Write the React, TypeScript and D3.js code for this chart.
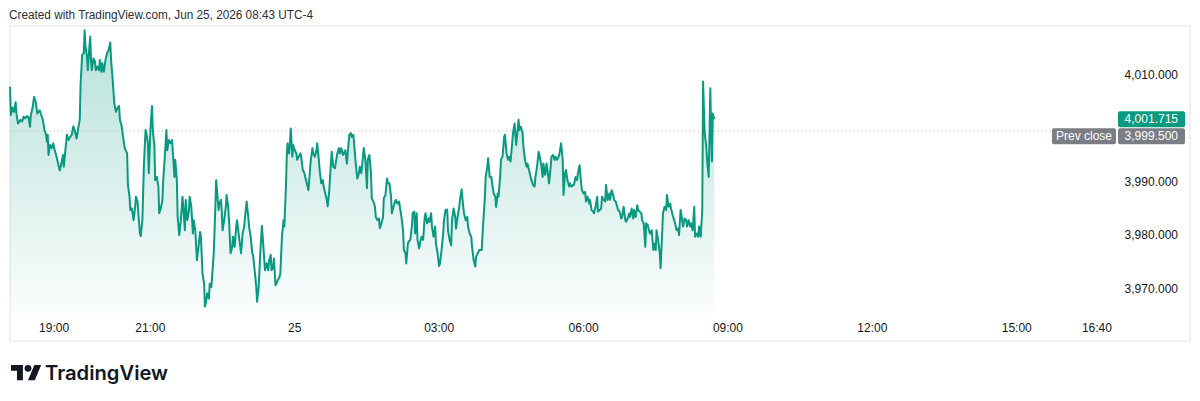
import * as d3 from 'd3';
import React, { useEffect, useRef } from 'react';

const headerText = 'Created with TradingView.com, Jun 25, 2026 08:43 UTC-4';
const prevClose = 3999.5;
const lastPrice = 4001.715;

// time axis: minutes after 18:00 on Jun 24
const xTickMinutes = [60, 180, 360, 540, 720, 900, 1080, 1260, 1360];
const xTickLabels = ['19:00', '21:00', '25', '03:00', '06:00', '09:00', '12:00', '15:00', '16:40'];
const yTicks = [3970, 3980, 3990, 4010];

// [minutes after 18:00, price]
const series: [number, number][] = [
  [5, 4007.8], [6, 4002.5], [8, 4003.9], [10, 4003.1], [12, 4004.9], [13, 4002.8], [15, 4000.9], [18, 4001.6],
  [20, 4001.3], [22, 4002.2], [24, 4001.9], [26, 4002.3], [28, 4002.1], [30, 4000.3], [31, 4002.5], [33, 4003.8],
  [35, 4005.9], [37, 4005.0], [39, 4002.8], [42, 4003.4], [44, 4002.5], [46, 4001.6], [48, 3999.7], [50, 3998.8],
  [51, 3997.5], [52, 3998.8], [53, 3995.0], [55, 3996.9], [57, 3996.3], [59, 3997.2], [60, 3996.3], [62, 3995.3],
  [63, 3994.7], [65, 3993.4], [67, 3992.1], [69, 3993.4], [71, 3995.0], [72, 3992.8], [74, 3995.9], [76, 3998.8],
  [78, 3997.8], [80, 3998.4], [82, 3998.8], [84, 4000.4], [86, 3999.4], [88, 3998.1], [90, 4000.0], [92, 4001.6],
  [93, 4008.4], [95, 4013.8], [97, 4014.1], [98, 4018.4], [99, 4015.6], [101, 4013.4], [102, 4010.9], [104, 4015.3],
  [105, 4017.2], [106, 4012.8], [107, 4010.9], [109, 4013.1], [111, 4012.5], [112, 4010.9], [114, 4011.6], [116, 4010.9],
  [117, 4012.8], [119, 4010.6], [120, 4012.2], [122, 4010.6], [124, 4012.8], [126, 4014.1], [128, 4014.7], [130, 4016.1],
  [131, 4012.8], [133, 4009.1], [135, 4004.7], [137, 4003.1], [139, 4003.8], [141, 4004.2], [142, 4001.6], [144, 4000.6],
  [146, 3998.4], [148, 3996.3], [151, 3995.3], [152, 3989.4], [154, 3987.2], [155, 3984.7], [157, 3985.0], [159, 3982.8],
  [161, 3985.3], [162, 3987.2], [164, 3986.3], [165, 3984.1], [167, 3980.3], [168, 3979.8], [170, 3982.8], [172, 3993.4],
  [174, 3999.7], [175, 3999.1], [177, 3997.2], [178, 3991.6], [180, 3999.7], [182, 4004.2], [183, 3999.7], [185, 3996.6],
  [186, 3990.3], [188, 3990.9], [190, 3989.1], [191, 3984.1], [193, 3985.0], [195, 3986.6], [196, 3990.3], [198, 3994.7],
  [200, 3999.7], [201, 3995.9], [203, 3997.8], [205, 3997.2], [207, 3997.8], [208, 3995.6], [210, 3990.9], [211, 3994.1],
  [213, 3990.3], [214, 3983.4], [216, 3980.0], [218, 3982.8], [220, 3987.2], [221, 3985.3], [223, 3980.9], [224, 3986.6],
  [226, 3982.8], [228, 3984.4], [229, 3987.2], [231, 3985.3], [233, 3980.3], [234, 3982.8], [236, 3980.9], [238, 3975.3],
  [240, 3977.8], [242, 3980.6], [243, 3979.7], [245, 3972.8], [247, 3970.9], [248, 3966.6], [249, 3967.2], [251, 3969.1],
  [253, 3968.1], [254, 3970.9], [256, 3970.3], [259, 3976.6], [261, 3985.3], [262, 3990.3], [264, 3986.6], [265, 3984.7],
  [266, 3985.9], [268, 3986.6], [269, 3984.4], [270, 3980.9], [272, 3982.8], [274, 3985.3], [275, 3987.5], [277, 3985.3],
  [278, 3982.8], [280, 3976.6], [282, 3977.8], [283, 3979.7], [285, 3977.8], [287, 3981.6], [288, 3982.8], [290, 3980.3],
  [293, 3976.6], [295, 3980.3], [297, 3981.6], [298, 3983.4], [300, 3986.3], [302, 3983.4], [303, 3981.6], [305, 3979.7],
  [307, 3976.6], [308, 3976.3], [310, 3973.4], [312, 3970.3], [313, 3967.5], [315, 3970.3], [317, 3976.6], [319, 3981.7],
  [320, 3979.7], [322, 3975.3], [323, 3973.4], [325, 3974.7], [327, 3973.4], [328, 3975.3], [330, 3976.3], [331, 3973.4],
  [333, 3974.1], [334, 3975.6], [336, 3970.6], [337, 3970.9], [339, 3971.6], [341, 3972.2], [342, 3972.8], [344, 3979.7],
  [346, 3982.8], [347, 3981.6], [349, 3989.1], [350, 3994.7], [351, 3997.2], [353, 3995.3], [354, 3997.2], [355, 4000.0],
  [357, 3994.7], [358, 3996.9], [360, 3995.9], [362, 3995.3], [363, 3994.1], [365, 3994.7], [367, 3995.3], [368, 3994.7],
  [370, 3992.2], [372, 3991.6], [373, 3990.9], [375, 3989.7], [377, 3988.4], [378, 3990.3], [380, 3994.1], [382, 3996.3],
  [383, 3995.3], [385, 3994.7], [387, 3995.9], [388, 3997.2], [390, 3994.1], [391, 3992.2], [393, 3989.7], [395, 3990.3],
  [396, 3989.1], [398, 3987.8], [400, 3986.6], [401, 3985.4], [403, 3988.4], [405, 3993.4], [406, 3995.6], [408, 3992.8],
  [410, 3992.5], [411, 3993.4], [413, 3995.3], [415, 3996.3], [416, 3995.3], [418, 3996.3], [420, 3995.0], [421, 3995.3],
  [423, 3995.9], [425, 3993.4], [426, 3995.3], [428, 3998.8], [430, 3999.1], [431, 3998.4], [433, 3998.8], [435, 3995.3],
  [436, 3993.4], [438, 3990.6], [440, 3991.6], [441, 3992.8], [443, 3991.6], [445, 3994.7], [446, 3996.3], [448, 3994.1],
  [450, 3988.8], [451, 3994.1], [453, 3995.0], [455, 3991.6], [456, 3986.9], [458, 3986.3], [460, 3985.3], [461, 3983.4],
  [463, 3982.8], [465, 3983.1], [466, 3981.3], [468, 3982.2], [470, 3983.4], [471, 3986.9], [473, 3987.5], [475, 3990.6],
  [476, 3989.7], [478, 3989.7], [480, 3987.2], [481, 3984.1], [483, 3985.3], [485, 3986.3], [486, 3986.6], [488, 3985.9],
  [490, 3986.3], [491, 3985.3], [493, 3983.4], [495, 3980.9], [496, 3977.2], [498, 3976.6], [499, 3974.7], [501, 3978.4],
  [502, 3978.8], [504, 3979.1], [506, 3981.6], [507, 3984.1], [509, 3984.4], [510, 3980.3], [512, 3984.1], [513, 3979.1],
  [515, 3977.5], [517, 3979.1], [518, 3979.7], [520, 3979.1], [522, 3983.4], [523, 3984.1], [525, 3982.2], [527, 3983.1],
  [528, 3982.5], [530, 3984.1], [531, 3981.6], [533, 3979.7], [535, 3981.6], [536, 3978.4], [538, 3976.6], [540, 3974.2],
  [541, 3974.7], [543, 3977.2], [545, 3980.3], [546, 3982.8], [548, 3984.7], [550, 3984.8], [551, 3980.9], [553, 3979.1],
  [555, 3978.1], [556, 3982.8], [558, 3985.0], [560, 3983.4], [561, 3981.2], [563, 3983.4], [565, 3985.3], [566, 3986.6],
  [568, 3988.6], [570, 3985.3], [571, 3984.1], [573, 3982.8], [575, 3983.4], [576, 3981.6], [578, 3980.3], [580, 3979.7],
  [581, 3977.8], [583, 3975.3], [585, 3974.1], [586, 3975.9], [588, 3976.6], [590, 3977.2], [593, 3977.2], [595, 3982.5],
  [597, 3987.2], [598, 3990.9], [600, 3992.8], [601, 3994.4], [603, 3990.9], [605, 3990.9], [606, 3989.7], [608, 3987.8],
  [610, 3987.2], [611, 3985.3], [613, 3987.8], [614, 3987.2], [616, 3990.9], [617, 3994.1], [619, 3994.7], [621, 3998.4],
  [622, 3998.8], [624, 3995.3], [626, 3994.1], [627, 3994.7], [629, 3993.8], [631, 3997.2], [632, 3999.1], [634, 4000.9],
  [636, 3996.9], [637, 3998.4], [639, 4001.6], [640, 3999.7], [642, 4000.3], [644, 3999.1], [645, 3996.6], [647, 3994.1],
  [649, 3992.8], [650, 3993.4], [652, 3992.2], [654, 3990.9], [655, 3990.3], [657, 3989.4], [659, 3989.1], [660, 3990.9],
  [662, 3992.8], [664, 3995.6], [665, 3995.0], [667, 3993.4], [669, 3990.9], [670, 3993.4], [672, 3991.3], [674, 3993.4],
  [675, 3992.2], [677, 3989.7], [679, 3992.8], [680, 3994.7], [682, 3995.0], [684, 3994.1], [685, 3994.7], [687, 3994.1],
  [689, 3994.7], [690, 3995.3], [692, 3997.2], [694, 3994.1], [695, 3987.5], [697, 3991.6], [698, 3992.2], [700, 3990.3],
  [702, 3989.1], [703, 3989.7], [705, 3989.1], [707, 3989.4], [708, 3989.4], [710, 3990.9], [712, 3990.3], [713, 3991.6],
  [715, 3993.1], [717, 3989.7], [718, 3988.4], [720, 3987.8], [722, 3988.1], [723, 3986.3], [725, 3987.2], [727, 3985.9],
  [728, 3986.6], [730, 3984.7], [732, 3984.4], [733, 3984.1], [735, 3985.3], [737, 3987.2], [738, 3984.4], [740, 3984.7],
  [742, 3985.0], [743, 3987.2], [745, 3986.6], [747, 3986.3], [748, 3989.4], [750, 3986.6], [752, 3987.8], [753, 3986.6],
  [755, 3988.4], [757, 3987.5], [758, 3986.6], [760, 3986.3], [762, 3985.3], [763, 3984.7], [765, 3984.4], [767, 3983.1],
  [768, 3983.4], [770, 3985.3], [772, 3982.8], [773, 3982.5], [775, 3983.1], [777, 3984.1], [778, 3983.4], [780, 3985.0],
  [782, 3983.1], [783, 3984.7], [785, 3983.4], [787, 3985.6], [788, 3984.7], [790, 3984.4], [792, 3984.1], [793, 3982.8],
  [795, 3982.2], [797, 3977.8], [798, 3982.2], [800, 3981.9], [802, 3980.6], [803, 3980.3], [805, 3980.9], [807, 3977.2],
  [808, 3978.4], [810, 3977.2], [811, 3980.9], [813, 3979.1], [815, 3976.6], [816, 3973.8], [818, 3980.3], [819, 3984.1],
  [821, 3985.3], [823, 3984.7], [824, 3987.5], [826, 3985.3], [828, 3985.9], [829, 3985.0], [831, 3983.8], [833, 3982.8],
  [834, 3982.2], [836, 3980.9], [838, 3981.2], [839, 3980.0], [841, 3984.7], [843, 3982.8], [844, 3981.6], [846, 3983.1],
  [848, 3982.8], [849, 3981.6], [851, 3982.8], [853, 3981.6], [854, 3982.2], [856, 3980.9], [858, 3985.3], [859, 3979.7],
  [861, 3980.3], [863, 3979.7], [864, 3981.6], [866, 3979.7], [868, 3984.7], [869, 4008.8], [871, 3999.1], [873, 3996.6],
  [874, 3994.1], [876, 3990.9], [878, 4007.5], [879, 3999.7], [880, 3993.8], [881, 4002.8], [883, 4001.715],
];

function App() {
  const ref = useRef<SVGSVGElement>(null);

  useEffect(() => {
    const svg = d3.select(ref.current);
    svg.selectAll('*').remove();

    const width = 1200;
    const height = 401;
    const plot = { left: 10, right: 1117, top: 27, bottom: 313 };
    const font = "'Liberation Sans', Arial, sans-serif";
    const green = '#089981';
    const gray = '#7b7d84';

    const x = d3.scaleLinear().domain([5, 1385]).range([plot.left, plot.right]);
    const y = d3.scaleLinear().domain([3965.4, 4019.0]).range([plot.bottom, plot.top]);

    svg.append('rect').attr('width', width).attr('height', height).attr('fill', '#fff');

    svg.append('text')
      .attr('x', 9).attr('y', 19)
      .attr('font-family', font).attr('font-size', 12.5)
      .attr('fill', '#2a2e39')
      .attr('textLength', 304).attr('lengthAdjust', 'spacingAndGlyphs')
      .text(headerText);

    // pane border
    svg.append('rect')
      .attr('x', 10).attr('y', 26).attr('width', 1180).attr('height', 315)
      .attr('fill', 'none').attr('stroke', '#f0f1f3').attr('stroke-width', 2);

    const defs = svg.append('defs');
    const grad = defs.append('linearGradient')
      .attr('id', 'areaFill').attr('gradientUnits', 'userSpaceOnUse')
      .attr('x1', 0).attr('x2', 0).attr('y1', plot.top).attr('y2', plot.bottom);
    grad.append('stop').attr('offset', 0).attr('stop-color', green).attr('stop-opacity', 0.3);
    grad.append('stop').attr('offset', 1).attr('stop-color', green).attr('stop-opacity', 0.02);

    const area = d3.area<[number, number]>()
      .x(d => x(d[0])).y0(plot.bottom).y1(d => y(d[1]));
    const line = d3.line<[number, number]>()
      .x(d => x(d[0])).y(d => y(d[1]));

    svg.append('path').datum(series).attr('d', area).attr('fill', 'url(#areaFill)');

    // previous close dotted line
    svg.append('line')
      .attr('x1', plot.left).attr('x2', 1052)
      .attr('y1', y(prevClose)).attr('y2', y(prevClose))
      .attr('stroke', '#b8bbc2').attr('stroke-width', 1).attr('stroke-dasharray', '1 3');

    svg.append('path').datum(series).attr('d', line)
      .attr('fill', 'none').attr('stroke', green).attr('stroke-width', 2)
      .attr('stroke-linejoin', 'round');

    // price scale
    svg.append('g').selectAll('text').data(yTicks).join('text')
      .attr('x', 1178).attr('y', d => y(d)).attr('dy', '0.35em')
      .attr('text-anchor', 'end')
      .attr('font-family', font).attr('font-size', 12).attr('fill', '#131722')
      .text(d => d3.format(',.3f')(d));

    // time scale
    svg.append('g').selectAll('text').data(xTickMinutes).join('text')
      .attr('x', d => x(d)).attr('y', 332)
      .attr('text-anchor', 'middle')
      .attr('font-family', font).attr('font-size', 12).attr('fill', '#131722')
      .text((d, i) => xTickLabels[i]);

    // last price and prev close labels
    const boxH = 16;
    const lastTop = y(lastPrice) - boxH / 2;
    const prevTop = lastTop + boxH + 1;
    svg.append('rect').attr('x', 1118).attr('y', lastTop).attr('width', 67).attr('height', boxH)
      .attr('rx', 2).attr('fill', green);
    svg.append('text').attr('x', 1178).attr('y', lastTop + boxH / 2).attr('dy', '0.35em')
      .attr('text-anchor', 'end').attr('font-family', font).attr('font-size', 12)
      .attr('fill', '#fff').text(d3.format(',.3f')(lastPrice));

    svg.append('rect').attr('x', 1052).attr('y', prevTop).attr('width', 64).attr('height', boxH)
      .attr('rx', 2).attr('fill', gray);
    svg.append('text').attr('x', 1084).attr('y', prevTop + boxH / 2).attr('dy', '0.35em')
      .attr('text-anchor', 'middle').attr('font-family', font).attr('font-size', 12)
      .attr('fill', '#fff').text('Prev close');
    svg.append('rect').attr('x', 1118).attr('y', prevTop).attr('width', 67).attr('height', boxH)
      .attr('rx', 2).attr('fill', gray);
    svg.append('text').attr('x', 1178).attr('y', prevTop + boxH / 2).attr('dy', '0.35em')
      .attr('text-anchor', 'end').attr('font-family', font).attr('font-size', 12)
      .attr('fill', '#fff').text(d3.format(',.3f')(prevClose));

    // TradingView logo
    const logo = svg.append('g').attr('transform', 'translate(11,361.5) scale(0.85)').attr('fill', '#131722');
    logo.append('path').attr('d', 'M14 22H7V11H0V4h14v18zM28 22h-8l7.5-18h8L28 22z');
    logo.append('circle').attr('cx', 20).attr('cy', 8).attr('r', 4);
    svg.append('text')
      .attr('x', 45).attr('y', 380)
      .attr('font-family', "Inter, Roboto, sans-serif").attr('font-size', 20).attr('font-weight', 600)
      .attr('fill', '#131722')
      .attr('textLength', 123).attr('lengthAdjust', 'spacingAndGlyphs')
      .text('TradingView');
  }, []);

  return (
    <svg ref={ref} width={1200} height={401}
      style={{ position: 'absolute', left: 0, top: 0, display: 'block' }} />
  );
}

export default App;
